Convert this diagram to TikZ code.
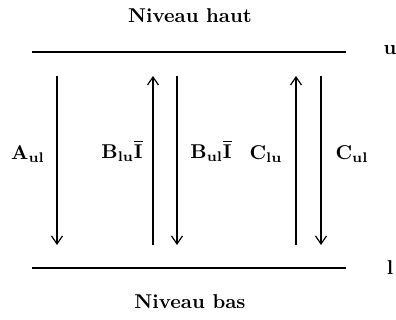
\documentclass[tikz,border=0pt]{standalone}
\usepackage{amsmath}
\usetikzlibrary{arrows.meta}
\begin{document}
\begin{tikzpicture}[x=0.5pt,y=-0.5pt]
      \tikzset{level/.style={line width=1.2pt},
               trans/.style={-{Straight Barb[length=4pt,width=5.5pt]}, semithick},
               lbl/.style={font=\bfseries, inner sep=1pt}}
      \useasboundingbox (0,0) rectangle (396,320);
%% Niveaux
	%haut et bas
      	\coordinate (u1) at (32,52);
      	\coordinate (u2) at (346,52);
      	\coordinate (l1) at (32,268);
      	\coordinate (l2) at (346,268);
      	\draw[level] (u1) -- (u2);
      	\draw[level] (l1) -- (l2);
      	\node[lbl] (haut) at (190,16) {Niveau haut};
      	\node[lbl] (bas) at (190,302) {Niveau bas};
      	\node[lbl] (u) at (390,50) {u};
      	\node[lbl] (l) at (390,268) {l};
%% Transitions
	%extremites
      	\coordinate (a1) at (57,76);   \coordinate (a2) at (57,245);
      	\coordinate (b1) at (153,76);  \coordinate (b2) at (153,245);
      	\coordinate (c1) at (177,76);  \coordinate (c2) at (177,245);
      	\coordinate (d1) at (296,76);  \coordinate (d2) at (296,245);
      	\coordinate (e1) at (321,76);  \coordinate (e2) at (321,245);
	%fleches
		\draw[trans] (a1) -- (a2);
		\draw[trans] (b2) -- (b1);
		\draw[trans] (c1) -- (c2);
		\draw[trans] (d2) -- (d1);
		\draw[trans] (e1) -- (e2);
	%coefficients
		\node[lbl] (Aul) at (28,154) {$\mathbf{A}_{\mathbf{ul}}$};
		\node[lbl] (Blu) at (122,151) {$\mathbf{B}_{\mathbf{lu}}\overline{\mathbf{I}}$};
		\node[lbl] (Bul) at (211,151) {$\mathbf{B}_{\mathbf{ul}}\overline{\mathbf{I}}$};
		\node[lbl] (Clu) at (266,154) {$\mathbf{C}_{\mathbf{lu}}$};
		\node[lbl] (Cul) at (352,154) {$\mathbf{C}_{\mathbf{ul}}$};

\end{tikzpicture}
\end{document}
